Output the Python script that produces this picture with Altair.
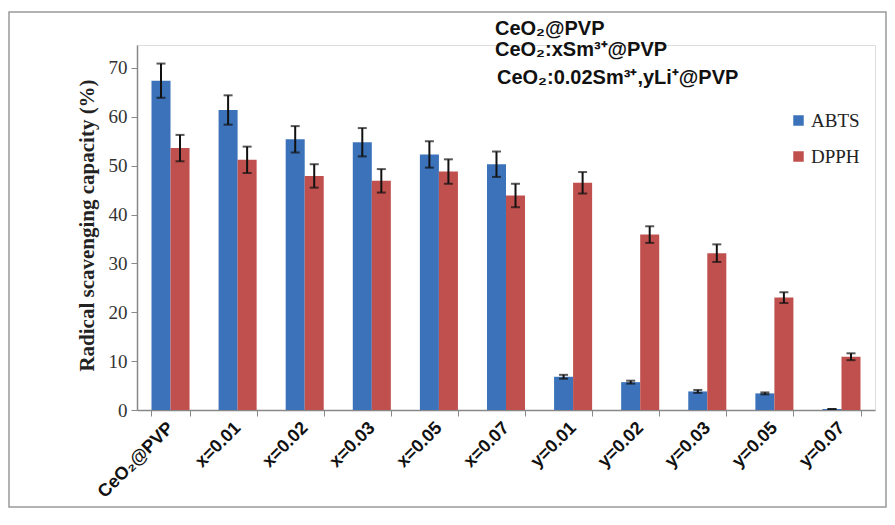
import altair as alt
import pandas as pd

samples = ["CeO₂@PVP", "x=0.01", "x=0.02", "x=0.03", "x=0.05", "x=0.07",
           "y=0.01", "y=0.02", "y=0.03", "y=0.05", "y=0.07"]
series = ["ABTS", "DPPH"]
abts = [67.4, 61.4, 55.4, 54.8, 52.3, 50.3, 6.8, 5.7, 3.8, 3.4, 0.2]
abts_err = [3.5, 3.0, 2.7, 2.9, 2.7, 2.6, 0.4, 0.3, 0.3, 0.2, 0.0]
dpph = [53.6, 51.2, 47.9, 46.9, 48.8, 43.9, 46.5, 35.9, 32.1, 23.0, 10.9]
dpph_err = [2.7, 2.7, 2.4, 2.4, 2.5, 2.4, 2.2, 1.7, 1.8, 1.1, 0.7]
annotations = ["CeO₂@PVP", "CeO₂:xSm³⁺@PVP", "CeO₂:0.02Sm³⁺,yLi⁺@PVP"]
y_ticks = [0, 10, 20, 30, 40, 50, 60, 70]
colors = ["#3B72B9", "#C0504D"]

rows = []
for i, s in enumerate(samples):
    rows.append({"sample": s, "series": "ABTS", "value": abts[i], "err": abts_err[i]})
    rows.append({"sample": s, "series": "DPPH", "value": dpph[i], "err": dpph_err[i]})
df = pd.DataFrame(rows)
df["lo"] = df["value"] - df["err"]
df["hi"] = df["value"] + df["err"]

xscale = alt.Scale(paddingInner=0.433, paddingOuter=0.216)
x = alt.X("sample:N", sort=samples, scale=xscale, title=None,
          axis=alt.Axis(labelAngle=-45, labelAlign="right", labelBaseline="middle",
                        labelFont="Liberation Sans", labelFontWeight="bold", labelFontSize=18,
                        labelColor="#111", labelPadding=9, tickBand="extent", tickSize=6,
                        tickColor="#888", domainColor="#888", domainWidth=1.5, labelLimit=300))
xo = alt.XOffset("series:N", sort=series)
yscale = alt.Scale(domain=[0, 74.7], nice=False)

bars = alt.Chart(df).mark_bar().encode(
    x=x, xOffset=xo,
    y=alt.Y("value:Q", scale=yscale,
            title="Radical scavenging capacity (%)",
            axis=alt.Axis(values=y_ticks, grid=False, labelFont="Liberation Serif",
                          labelFontSize=19, labelColor="#333", tickSize=6, tickColor="#888",
                          domainColor="#888", domainWidth=1.5, labelPadding=4,
                          titleFont="Liberation Serif", titleFontWeight="bold",
                          titleFontSize=21, titleColor="#222", titleX=-40, titleY=180,
                          titleBaseline="bottom")),
    color=alt.Color("series:N", sort=series, scale=alt.Scale(domain=series, range=colors),
                    legend=alt.Legend(title=None, orient="none", legendX=652, legendY=66,
                                      symbolType="square", symbolSize=110,
                                      symbolStrokeWidth=0, labelFont="Liberation Serif",
                                      labelFontSize=19, labelColor="#222",
                                      rowPadding=16, symbolOffset=0, labelOffset=3)),
)

rules = alt.Chart(df).mark_rule(color="#111", strokeWidth=2).encode(
    x=alt.X("sample:N", sort=samples, scale=xscale), xOffset=xo,
    y=alt.Y("lo:Q", scale=yscale), y2="hi:Q")
caps_lo = alt.Chart(df).mark_tick(color="#111", thickness=2, size=9, orient="horizontal").encode(
    x=alt.X("sample:N", sort=samples, scale=xscale), xOffset=xo,
    y=alt.Y("lo:Q", scale=yscale))
caps_hi = alt.Chart(df).mark_tick(color="#111", thickness=2, size=9, orient="horizontal").encode(
    x=alt.X("sample:N", sort=samples, scale=xscale), xOffset=xo,
    y=alt.Y("hi:Q", scale=yscale))

ann_df = pd.DataFrame({"text": annotations, "ypos": [-10, 11, 39], "xpos": [358, 358, 360]})
ann = alt.Chart(ann_df).mark_text(font="Liberation Sans", fontWeight="bold", fontSize=20,
                                  align="left", baseline="alphabetic", color="#111").encode(
    text="text:N", x=alt.X("xpos:Q", scale=None), y=alt.Y("ypos:Q", scale=None))

frame = alt.Chart(pd.DataFrame({"a": [0]})).mark_rect(fill=None, stroke="#999", strokeWidth=1.5).encode(
    x=alt.value(-128), x2=alt.value(749), y=alt.value(-33), y2=alt.value(462))

chart = alt.layer(frame, bars, rules, caps_lo, caps_hi, ann).properties(
    width=738, height=365,
    autosize=alt.AutoSizeParams(type="none"),
    padding={"left": 129, "top": 37, "right": 12, "bottom": 103},
).configure_view(stroke=None).configure(background="white")

chart.save("out.html", embed_options={"renderer": "svg", "actions": False})
